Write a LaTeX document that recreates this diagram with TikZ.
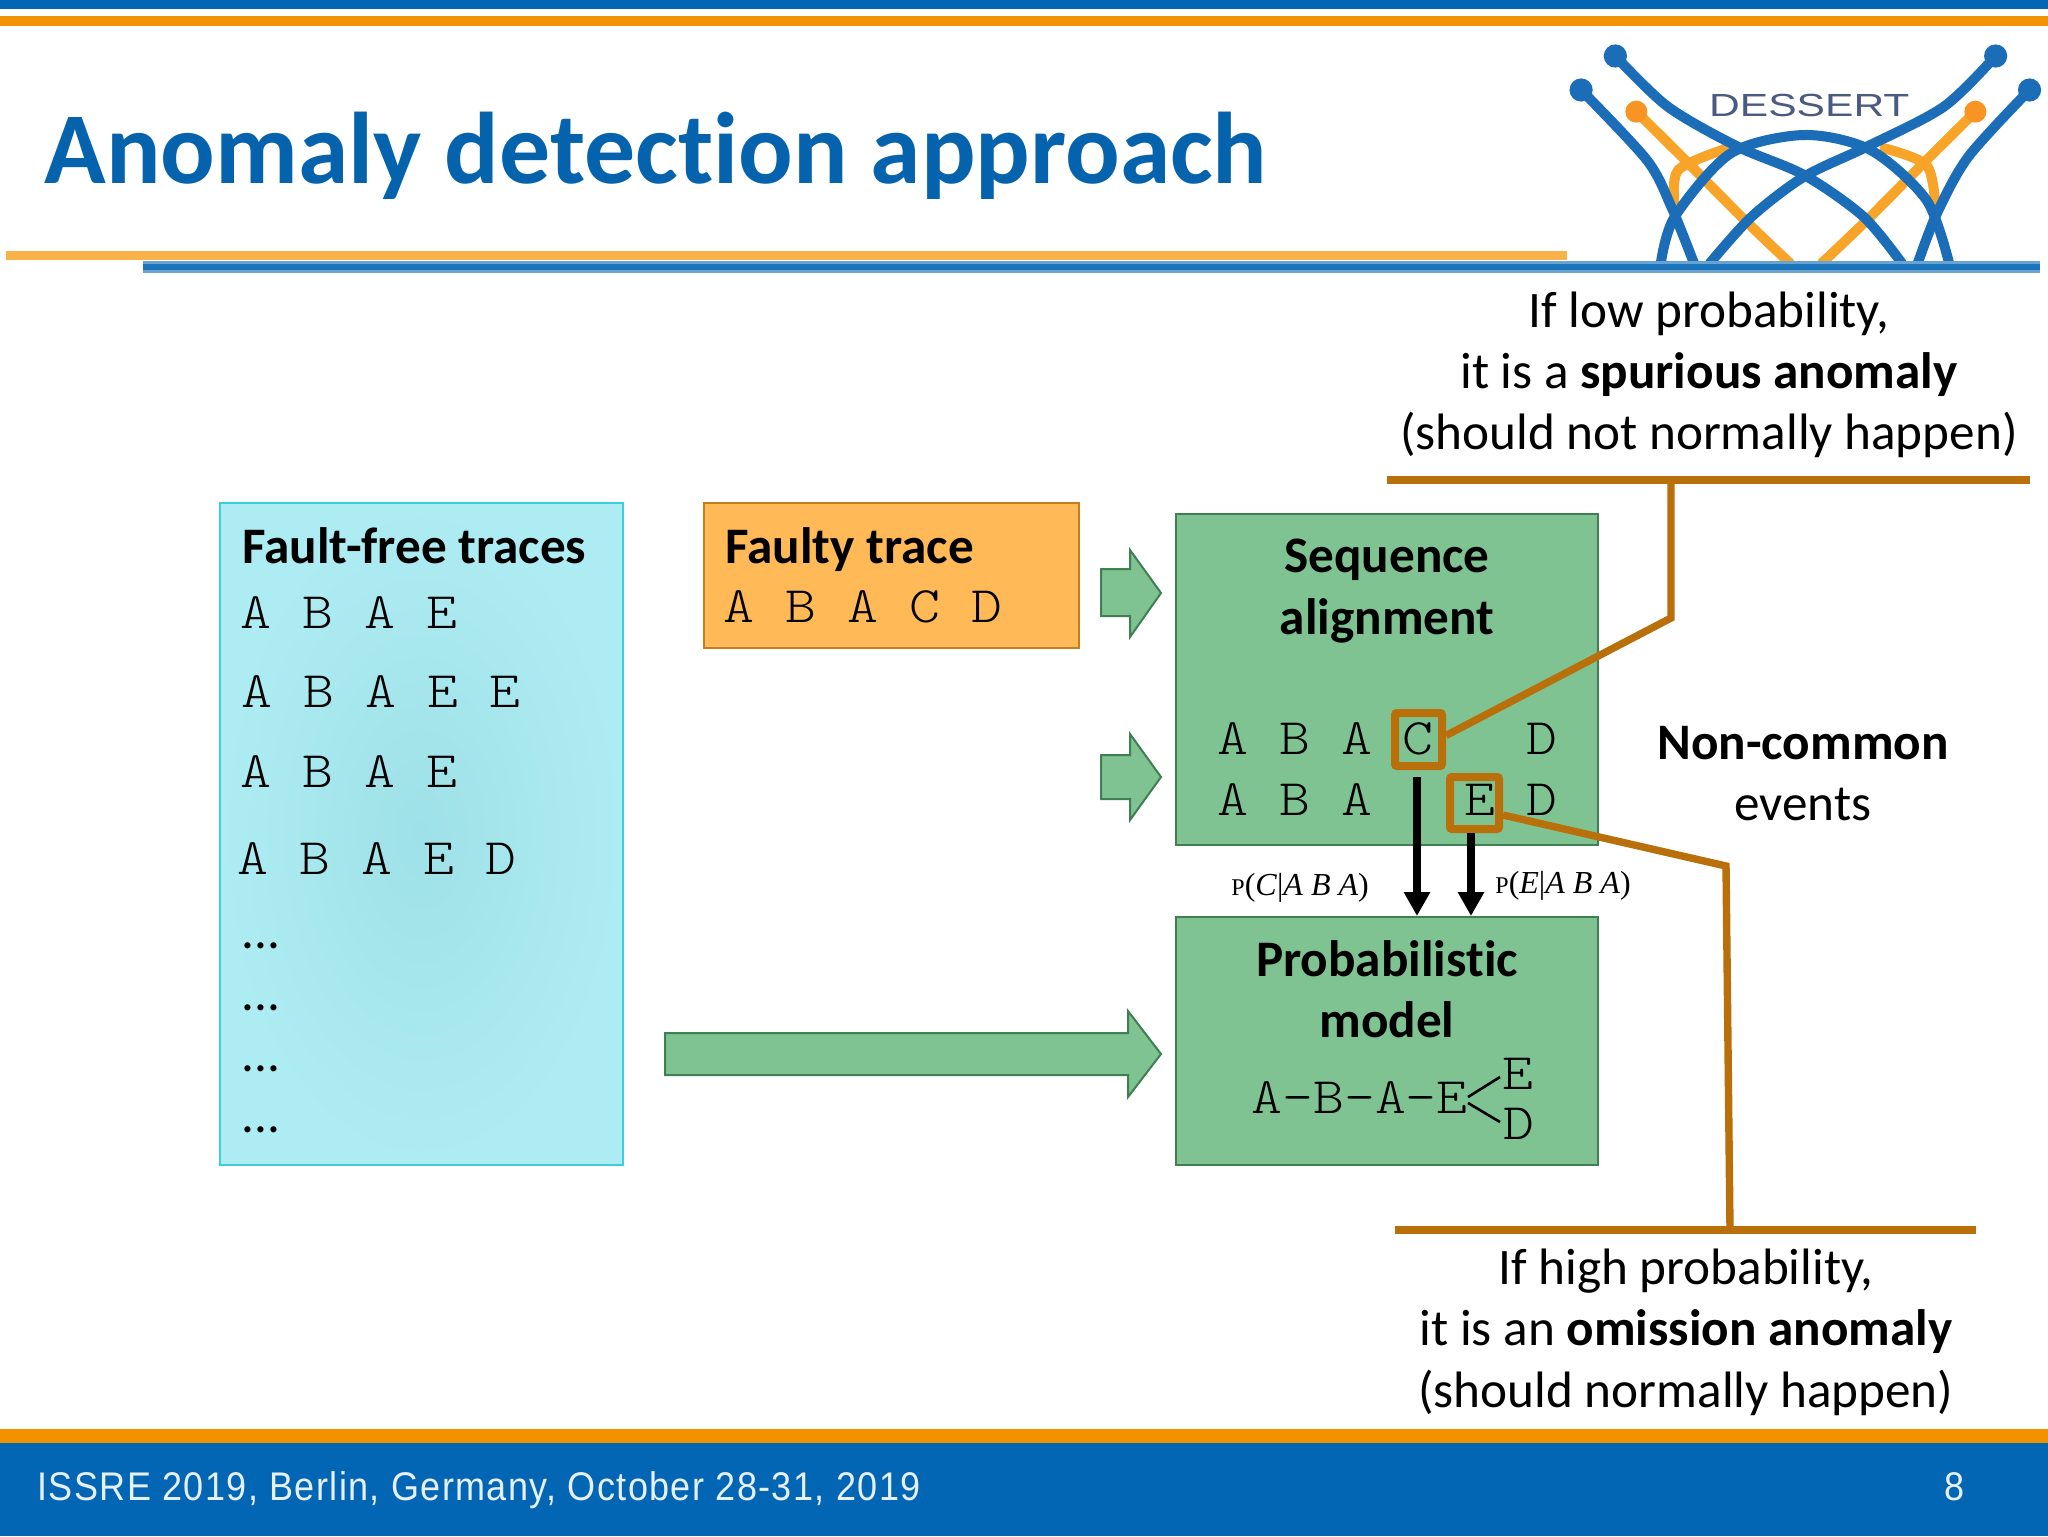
\documentclass[tikz,border=0pt]{standalone}
\usepackage{fontspec}
\setmainfont{Carlito}[Ligatures=NoCommon]
\newfontfamily\seqf{Latin Modern Mono Light}[FakeStretch=1.15]
\newfontfamily\arialf{Liberation Sans}
\newfontfamily\footf{Liberation Sans}[FakeStretch=0.9,LetterSpace=3.5]
\newfontfamily\timesf{Liberation Serif}
\usetikzlibrary{arrows.meta}
\definecolor{slideblue}{HTML}{0366B4}
\definecolor{slideorange}{HTML}{F39200}
\definecolor{titleblue}{HTML}{0563AE}
\definecolor{brownish}{HTML}{B96F0A}
\definecolor{greenfill}{HTML}{80C392}
\definecolor{greenline}{HTML}{3F7F52}
\definecolor{logoblue}{HTML}{1B6DB8}
\definecolor{logoorange}{HTML}{F7A428}
\definecolor{logotextcol}{HTML}{4A5A80}
\definecolor{aquaout}{HTML}{ADECF2}
\definecolor{aquain}{HTML}{9FE1E8}
\definecolor{aqualine}{HTML}{3CCFD8}
\definecolor{faultyfill}{HTML}{FFB957}
\definecolor{faultyline}{HTML}{C17F1F}
\tikzset{
  x=0.5pt,y=-0.5pt,
  body/.style={inner sep=0pt,anchor=base,font=\fontsize{25.6}{30}\selectfont},
  lefttext/.style={body,anchor=base west},
  seqtext/.style={inner sep=0pt,anchor=base west,font=\fontsize{25.6}{30}\seqf},
  greenbox/.style={draw=greenline,line width=1pt,fill=greenfill},
  hl/.style={draw=brownish,line width=4pt,rounded corners=1pt,inner sep=0pt},
  callout/.style={draw=brownish,line width=3.7pt,line join=miter},
  rulebar/.style={draw=brownish,line width=4pt},
  blockarrow/.style={draw=greenline,line width=1pt,fill=greenfill},
  prob/.style={draw=black,line width=4.2pt,-{Triangle[width=12.5pt,length=12pt]}},
  problabel/.style={inner sep=0pt,anchor=base west,font=\fontsize{16}{18}\timesf},
  treeline/.style={draw=black,line width=1.3pt},
  lb/.style={draw=logoblue,line width=5pt,line cap=round},
  lo/.style={draw=logoorange,line width=5pt,line cap=round},
}
\newcommand{\smp}{{\fontsize{12}{12}\selectfont P}}
\begin{document}
\begin{tikzpicture}
\useasboundingbox (0,0) rectangle (2048,1536);
\fill[white] (0,0) rectangle (2048,1536);
% top bars
\fill[slideblue] (0,0) rectangle (2048,9);
\fill[slideorange] (0,16) rectangle (2048,26);
% title
\node[inner sep=0pt,anchor=base west,text=titleblue,font=\fontsize{50.9}{60}\selectfont\bfseries] (title) at (44,183) {Anomaly detection approach};
% logo
\begin{scope}[shift={(1500,0)},x=0.17476pt,y=-0.16667pt]
  \clip (150,100) rectangle (1568,790);
  \draw[lo] plot[smooth] coordinates {(390,335) (520,470) (700,660) (830,790)};
  \draw[lo] plot[smooth] coordinates {(1360,335) (1230,470) (1050,660) (920,790)};
  \draw[lo] plot[smooth] coordinates {(500,620) (510,510) (650,445)};
  \draw[lo] plot[smooth] coordinates {(1100,445) (1220,495) (1245,610)};
  \draw[lb] plot[smooth] coordinates {(460,790) (500,650) (660,460) (870,405) (1060,450) (1220,600) (1285,790)};
  \draw[lb] plot[smooth] coordinates {(330,168) (480,320) (680,440) (870,525) (1040,650) (1150,790)};
  \draw[lb] plot[smooth] coordinates {(1418,168) (1270,320) (1050,440) (870,530) (720,650) (600,790)};
  \draw[lb] plot[smooth] coordinates {(232,270) (420,480) (490,620) (555,790)};
  \draw[lb] plot[smooth] coordinates {(1515,270) (1340,470) (1250,640) (1195,790)};
  \fill[logoblue] (330,168) circle (5.8pt) (232,270) circle (5.8pt) (1418,168) circle (5.8pt) (1515,270) circle (5.8pt);
  \fill[logoorange!90!red] (390,335) circle (5.5pt) (1360,335) circle (5.5pt);
  \node[inner sep=0pt,text=logotextcol,font=\fontsize{16}{20}\arialf,xscale=1.33,transform shape] (logotext) at (885,315) {DESSERT};
\end{scope}
% header rules
\fill[logoorange!85!white] (6,251) rectangle (1567,260);
\fill[slideblue!60!white] (143,261) rectangle (2040,273);
\fill[slideblue!90!white] (143,264) rectangle (2040,270);
% fault-free box
\shade[inner color=aquain, outer color=aquaout] (220,503) rectangle (623,1165);
\draw[draw=aqualine,line width=1pt] (220,503) rectangle (623,1165);
\node[lefttext,font=\fontsize{25.6}{30}\selectfont\bfseries] (fftitle) at (242,563) {Fault-free traces};
\node[seqtext] (t1) at (240.5,628) {A B A E};
\node[seqtext] (t2) at (241.5,707) {A B A E E};
\node[seqtext] (t3) at (240.5,787) {A B A E};
\node[seqtext] (t4) at (237.5,874) {A B A E D};
\node[lefttext] (d1) at (241,948) {...};
\node[lefttext] (d2) at (241,1010) {...};
\node[lefttext] (d3) at (241,1071) {...};
\node[lefttext] (d4) at (241,1132) {...};
% faulty box
\draw[draw=faultyline,line width=1pt,fill=faultyfill] (704,503) rectangle (1079,648);
\node[lefttext,font=\fontsize{25.6}{30}\selectfont\bfseries] (fttitle) at (725,563) {Faulty trace};
\node[seqtext] (ft) at (723.5,622) {A B A C D};
% block arrows
\draw[blockarrow] (1101,569) -- (1130,569) -- (1130,550) -- (1161,593) -- (1130,637) -- (1130,616) -- (1101,616) -- cycle;
\draw[blockarrow] (1101,755) -- (1130,755) -- (1130,734) -- (1161,777) -- (1130,820) -- (1130,799) -- (1101,799) -- cycle;
\draw[blockarrow] (665,1033) -- (1128,1033) -- (1128,1011) -- (1161,1054) -- (1128,1097) -- (1128,1075) -- (665,1075) -- cycle;
% sequence alignment box
\node[greenbox,minimum width=211pt,minimum height=165.5pt,inner sep=0pt,anchor=north west] (align) at (1175,513) {};
\node[body,font=\fontsize{25.6}{30}\selectfont\bfseries] (a1) at (1387,572) {Sequence};
\node[body,font=\fontsize{25.6}{30}\selectfont\bfseries] (a2) at (1387,634) {alignment};
\node[seqtext] (r1) at (1217,754.5) {A B A C~~~D};
\node[seqtext] (r2) at (1217,815.5) {A B A~~~E D};
% model box
\node[greenbox,minimum width=211pt,minimum height=124pt,inner sep=0pt,anchor=north west] (model) at (1175,916) {};
\node[body,font=\fontsize{25.6}{30}\selectfont\bfseries] (m1) at (1387,976) {Probabilistic};
\node[body,font=\fontsize{25.6}{30}\selectfont\bfseries] (m2) at (1387,1037) {model};
\node[seqtext] (m3) at (1251,1113) {A-B-A-E};
\node[seqtext] (tE) at (1502,1089) {E};
\node[seqtext] (tD) at (1503,1139) {D};
\coordinate (fork1) at (1468,1097);
\coordinate (fork2) at (1468,1103);
\draw[treeline] (fork1) -- (1500,1077);
\draw[treeline] (fork2) -- (1500,1122);
% highlight squares
\node[hl,minimum width=23.5pt,minimum height=26.5pt] (cbox) at (1418.5,739.5) {};
\node[hl,minimum width=24.5pt,minimum height=26pt] (ebox) at (1474.5,803) {};
% probability arrows
\draw[prob] (cbox.south) ++(-1.5,7) coordinate (cs) -- (cs |- model.north);
\draw[prob] (ebox.south) ++(-3.5,0) coordinate (es) -- (es |- model.north);
\node[problabel] (pc) at (1231,895) {\smp(\textit{C}|\textit{A B A})};
\node[problabel] (pe) at (1495,893) {\smp(\textit{E}|\textit{A B A})};
% callouts
\node[body] (h1) at (1709,327) {If low probability,};
\node[body] (h2) at (1709,388) {it is a \textbf{spurious anomaly}};
\node[body] (h3) at (1709,449) {(should not normally happen)};
\coordinate (topL) at (1387,480);
\coordinate (topR) at (2030,480);
\draw[rulebar] (topL) -- (topR);
\coordinate (bend1) at (1671,618);
\draw[callout] (cbox.east) ++(0,-4) coordinate (ce) -- (bend1) -- (bend1 |- topL);
\node[body] (n1) at (1803,759) {\textbf{Non-common}};
\node[body] (n2) at (1803,820) {events};
\coordinate (botL) at (1395,1230);
\coordinate (botR) at (1976,1230);
\draw[rulebar] (botL) -- (botR);
\coordinate (bend2) at (1726,866);
\coordinate (bend3) at (1730,1230);
\draw[callout] (ebox.east) ++(0,12) coordinate (ee) -- (bend2) -- (bend3);
\node[body] (l1) at (1686,1284) {If high probability,};
\node[body] (l2) at (1686,1345) {it is an \textbf{omission anomaly}};
\node[body] (l3) at (1686,1407) {(should normally happen)};
% footer
\fill[slideblue] (0,1440) rectangle (2048,1536);
\fill[slideorange] (0,1429) rectangle (2048,1443);
\node[inner sep=0pt,anchor=base west,text=white!90!slideblue,font=\fontsize{20}{22}\footf] (foot) at (37,1500) {ISSRE 2019, Berlin, Germany, October 28-31, 2019};
\node[inner sep=0pt,anchor=base,text=white!90!slideblue,font=\fontsize{20}{22}\footf] (page) at (1954,1500) {8};
\end{tikzpicture}
\end{document}
